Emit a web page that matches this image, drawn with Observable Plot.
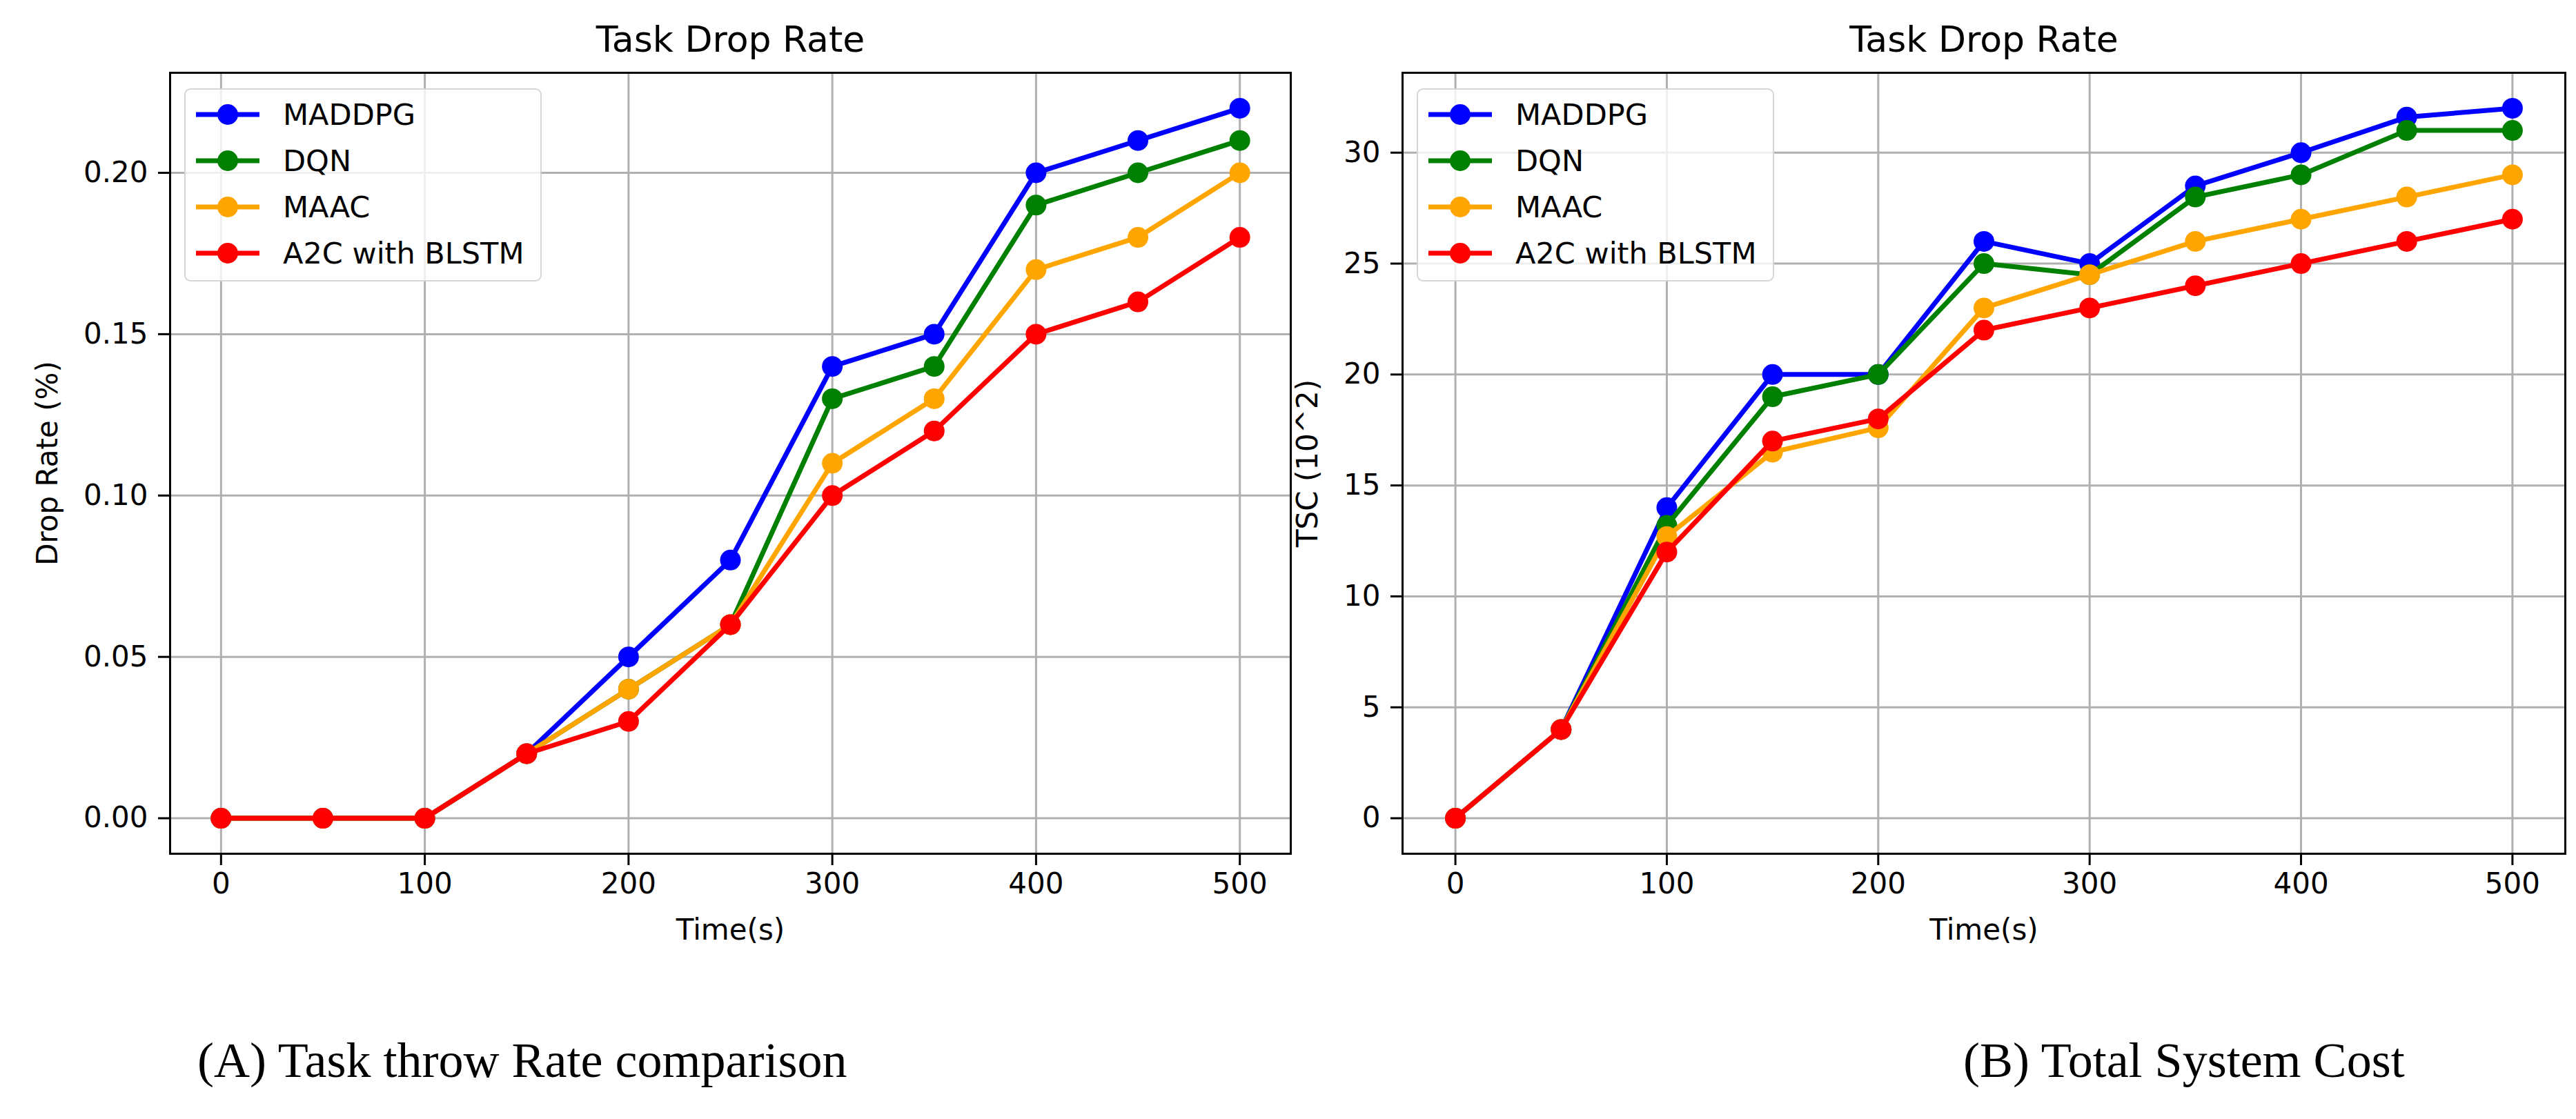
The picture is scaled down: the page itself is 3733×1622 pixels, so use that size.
<!DOCTYPE html>
<html>
<head>
<meta charset="utf-8">
<script src="https://cdn.jsdelivr.net/npm/d3@7"></script>
<script src="https://cdn.jsdelivr.net/npm/@observablehq/plot@0.6"></script>
<style>
  html, body { margin: 0; padding: 0; background: white; }
  #root { position: relative; width: 3733px; height: 1622px; background: white; overflow: hidden; }
  .panel { position: absolute; top: 0; }
  .legend { position: absolute; box-sizing: border-box; border: 2px solid rgba(204,204,204,0.8); border-radius: 9px; background: rgba(255,255,255,0.8); font-family: "DejaVu Sans", sans-serif; font-size: 43px; color: #000; }
  .legend .row { position: absolute; left: 0; height: 60px; }
  .legend svg { position: absolute; left: 13px; top: 0; }
  .legend span { position: absolute; left: 141px; top: 0; line-height: 60px; white-space: nowrap; }
  .caption { position: absolute; font-family: "Liberation Serif", serif; font-size: 72px; line-height: 72px; color: #000; white-space: nowrap; }
</style>
</head>
<body>
<div id="root"></div>
<script>
// ---- data ----
const timeValues = [0, 50, 100, 150, 200, 250, 300, 350, 400, 450, 500];
const seriesNames = ["MADDPG", "DQN", "MAAC", "A2C with BLSTM"];
const seriesColors = ["#0000ff", "#008000", "#ffa500", "#ff0000"];

// (A) drop rate
const dropMADDPG = [0, 0, 0, 0.02, 0.05, 0.08, 0.14, 0.15, 0.20, 0.21, 0.22];
const dropDQN    = [0, 0, 0, 0.02, 0.04, 0.06, 0.13, 0.14, 0.19, 0.20, 0.21];
const dropMAAC   = [0, 0, 0, 0.02, 0.04, 0.06, 0.11, 0.13, 0.17, 0.18, 0.20];
const dropA2C    = [0, 0, 0, 0.02, 0.03, 0.06, 0.10, 0.12, 0.15, 0.16, 0.18];

// (B) total system cost
const tscMADDPG = [0, 4, 14, 20, 20, 26, 25, 28.5, 30, 31.6, 32];
const tscDQN    = [0, 4, 13.2, 19, 20, 25, 24.5, 28, 29, 31, 31];
const tscMAAC   = [0, 4, 12.7, 16.5, 17.6, 23, 24.5, 26, 27, 28, 29];
const tscA2C    = [0, 4, 12, 17, 18, 22, 23, 24, 25, 26, 27];

const xTicks = [0, 100, 200, 300, 400, 500];
const dropTicks = [0, 0.05, 0.10, 0.15, 0.20];
const tscTicks = [0, 5, 10, 15, 20, 25, 30];

const chartTitle = "Task Drop Rate";
const xLabel = "Time(s)";
const dropLabel = "Drop Rate (%)";
const tscLabel = "TSC (10^2)";
const captionA = "(A) Task throw Rate comparison";
const captionB = "(B) Total System Cost";

// ---- build ----
const root = document.getElementById("root");

function tidy(arrays) {
  const rows = [];
  arrays.forEach((vals, si) => vals.forEach((v, i) => rows.push({series: seriesNames[si], t: timeValues[i], v})));
  return rows;
}

function makeChart(opts) {
  const rows = tidy(opts.arrays);
  const marks = [
    Plot.ruleX(xTicks, {stroke: "#b0b0b0", strokeWidth: 3}),
    Plot.ruleY(opts.yTicks, {stroke: "#b0b0b0", strokeWidth: 3}),
  ];
  seriesNames.forEach((name, si) => {
    const d = rows.filter(r => r.series === name);
    marks.push(Plot.line(d, {x: "t", y: "v", stroke: seriesColors[si], strokeWidth: 7, strokeLinejoin: "round"}));
    marks.push(Plot.dot(d, {x: "t", y: "v", fill: seriesColors[si], r: 15, stroke: "none"}));
  });
  marks.push(
    Plot.frame({stroke: "black", strokeWidth: 3}),
    Plot.axisX({ticks: xTicks, tickSize: 17, tickPadding: 11, fontSize: 42, strokeWidth: 3, label: null, tickFormat: d => String(d)}),
    Plot.axisY({ticks: opts.yTicks, tickSize: 17, tickPadding: 15, fontSize: 42, strokeWidth: 3, label: null, tickFormat: opts.tickFormat}),
    Plot.text([chartTitle], {frameAnchor: "top", dy: -47, lineAnchor: "middle", textAnchor: "middle", fontSize: 52, fill: "black"}),
    Plot.text([xLabel], {frameAnchor: "bottom", dy: 111, lineAnchor: "middle", textAnchor: "middle", fontSize: 42, fill: "black"}),
    Plot.text([opts.yLabel], {frameAnchor: "left", dx: opts.yLabelDx, rotate: -90, lineAnchor: "middle", textAnchor: "middle", fontSize: 42, fill: "black"})
  );
  const svg = Plot.plot({
    width: opts.width,
    height: 1400,
    marginLeft: opts.marginLeft,
    marginRight: opts.marginRight,
    marginTop: 105,
    marginBottom: 163,
    x: {domain: [-25, 525]},
    y: {domain: opts.yDomain},
    style: {fontFamily: "DejaVu Sans, sans-serif", background: "transparent", color: "black", overflow: "visible"},
    marks
  });
  svg.classList.add("panel");
  svg.style.left = opts.left + "px";
  svg.style.maxWidth = "none";
  root.appendChild(svg);

  // legend
  const lg = document.createElement("div");
  lg.className = "legend";
  lg.style.left = (opts.left + opts.marginLeft + 21) + "px";
  lg.style.top = "128px";
  lg.style.width = "518px";
  lg.style.height = "280px";
  seriesNames.forEach((name, si) => {
    const row = document.createElement("div");
    row.className = "row";
    row.style.top = (6 + 67 * si) + "px";
    row.innerHTML = `<svg width="96" height="60"><line x1="2" x2="94" y1="30" y2="30" stroke="${seriesColors[si]}" stroke-width="7"/><circle cx="48" cy="30" r="15" fill="${seriesColors[si]}"/></svg><span>${name}</span>`;
    lg.appendChild(row);
  });
  root.appendChild(lg);
}

makeChart({
  arrays: [dropMADDPG, dropDQN, dropMAAC, dropA2C],
  yTicks: dropTicks, yDomain: [-0.011, 0.231], tickFormat: d3.format(".2f"),
  yLabel: dropLabel, yLabelDx: -177,
  width: 1880, left: 0, marginLeft: 246, marginRight: 10
});
makeChart({
  arrays: [tscMADDPG, tscDQN, tscMAAC, tscA2C],
  yTicks: tscTicks, yDomain: [-1.6, 33.6], tickFormat: d => String(d),
  yLabel: tscLabel, yLabelDx: -137,
  width: 1883, left: 1850, marginLeft: 182, marginRight: 16
});

[[captionA, 286], [captionB, 2845]].forEach(([txt, x]) => {
  const c = document.createElement("div");
  c.className = "caption";
  c.textContent = txt;
  c.style.left = x + "px";
  c.style.top = "1501px";
  root.appendChild(c);
});
</script>
</body>
</html>
